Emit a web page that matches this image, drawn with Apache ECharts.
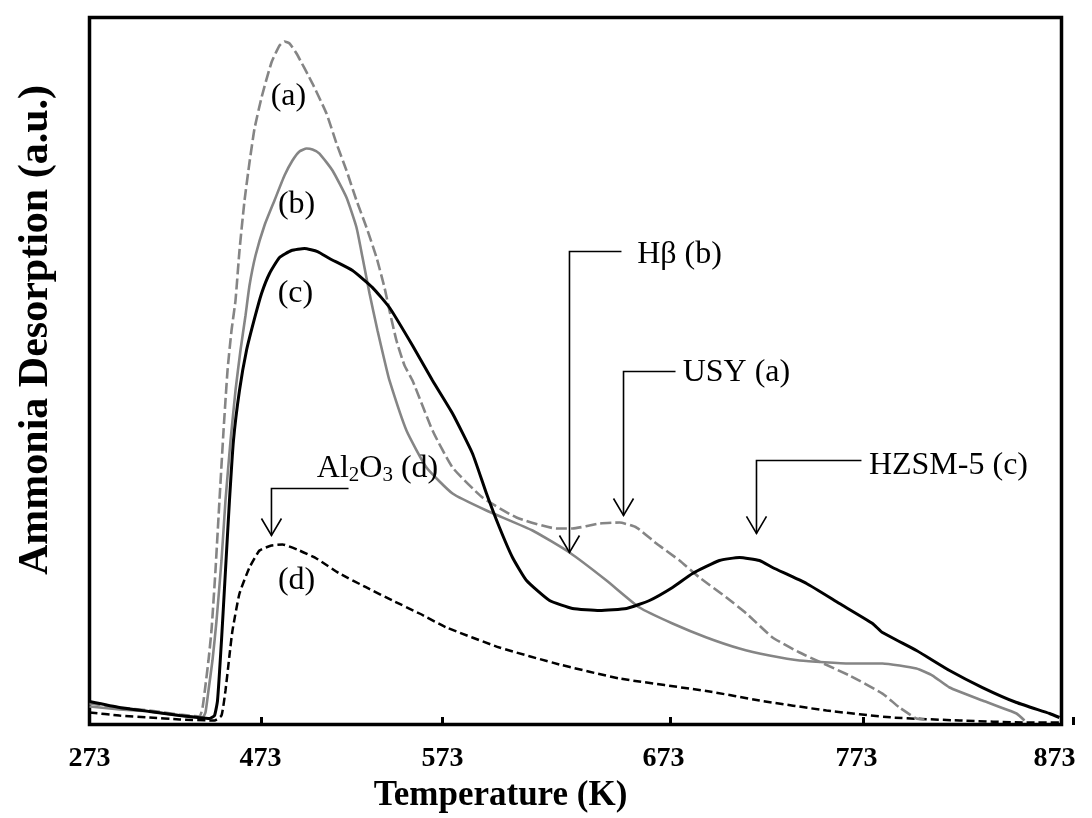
<!DOCTYPE html>
<html>
<head>
<meta charset="utf-8">
<script src="https://cdn.jsdelivr.net/npm/echarts@6/dist/echarts.min.js"></script>
<style>
html,body{margin:0;padding:0;background:#fff;}
#c{width:1092px;height:818px;}
</style>
</head>
<body>
<div id="c"></div>
<script>
// ---- tick labels (the plot's own horizontal scale is in plot units 0..100) ----
const tickLabels   = ['273', '473', '573', '673', '773', '873'];
const tickPos      = [0, 17.7, 36.32, 59.77, 79.63, 101.23];
const tickLabelPos = [0, 17.6, 36.32, 59.05, 78.91, 99.28];

// ---- (a) USY ----
const usyX = [0,3.09,6.17,9.26,11.32,11.63,11.93,12.24,12.55,12.96,13.37,13.79,14.2,14.61,15.02,15.43,15.95,16.46,16.98,17.7,18.72,19.55,20.06,20.58,21.3,22.94,24.38,25.41,26.44,27.47,28.5,29.53,30.35,30.86,31.58,32.41,33.23,35.29,37.35,40.43,43.93,48.05,49.69,52.47,54.53,56.28,58.33,60.7,62.76,65.53,67.59,70.27,73.05,78.19,81.58,83.33,85.08,85.9];
const usyY = [2.97,2.4,1.98,1.41,1.13,2.4,5.52,9.05,13.3,21.78,31.68,41.58,50.07,55.73,59.97,67.04,74.12,79.49,84.3,88.68,93.64,96.04,96.61,96.32,94.91,90.66,86.42,82.18,78.36,74.12,70.3,66.05,61.8,58.56,54.31,50.78,48.66,41.58,36.35,32.11,29.28,27.72,27.72,28.43,28.57,27.86,25.6,23.2,20.79,17.96,15.7,12.31,10.18,6.93,4.38,2.4,0.85,0.71];

// ---- (b) H-beta ----
const hbX = [0,3.09,6.17,9.26,11.63,11.93,12.24,12.65,13.07,13.58,13.99,14.51,15.02,15.53,16.05,16.46,17.08,18.0,19.03,20.06,20.88,21.6,22.33,22.94,23.66,25.0,26.44,27.47,28.09,28.81,29.63,30.35,30.86,32.61,34.67,37.35,40.84,45.58,49.38,53.19,56.58,59.98,63.48,66.87,69.96,73.05,78.19,81.58,85.08,86.73,88.48,91.87,95.37,96.19];
const hbY = [2.55,2.12,1.84,1.27,0.99,1.7,4.81,9.05,14.71,23.2,31.68,40.16,47.24,52.9,57.85,62.09,66.34,70.58,74.12,77.65,79.77,81.05,81.47,81.33,80.76,78.36,74.54,70.3,66.05,60.96,55.73,51.49,48.66,41.58,36.35,32.67,30.27,27.44,24.33,20.37,16.55,14.29,12.31,10.75,9.76,9.05,8.63,8.63,7.92,6.93,5.23,3.39,1.56,0.57];

// ---- (c) HZSM-5 ----
const zsmX = [0,3.09,6.17,9.26,12.35,12.86,13.17,13.58,13.99,14.4,14.81,15.43,16.15,16.98,17.7,18.52,19.55,20.78,22.12,23.46,24.69,27.06,29.12,30.86,33.23,35.29,37.35,39.4,40.84,42.18,43.52,44.96,47.33,49.69,52.47,55.25,57.61,59.98,62.04,64.81,66.87,68.93,70.27,73.77,77.16,80.56,81.58,85.08,88.48,91.87,95.37,98.77,99.79];
const zsmY = [3.25,2.4,1.84,1.27,0.85,1.27,3.39,11.88,21.78,31.68,40.16,47.24,52.9,57.43,60.96,63.79,66.05,67.04,67.33,66.9,65.91,64.21,61.8,58.98,53.61,48.66,43.99,38.33,32.67,27.86,23.62,20.37,17.54,16.41,16.12,16.41,17.54,19.38,21.36,23.2,23.62,23.2,22.21,19.94,17.11,14.29,13.01,10.47,7.64,5.23,3.11,1.56,0.99];

// ---- (d) Al2O3 ----
const alX = [0,3.09,6.17,9.26,12.86,13.58,13.99,14.4,14.71,15.43,16.46,17.49,18.72,19.86,21.6,23.35,25.72,28.5,31.17,33.95,36.73,42.18,48.35,54.53,63.79,68.93,75.82,82.61,89.51,96.4,99.79];
const alY = [1.7,1.27,0.99,0.71,0.57,1.27,4.81,9.76,13.3,18.53,22.21,24.61,25.32,25.46,24.61,23.48,21.36,19.38,17.54,15.7,13.72,10.89,8.49,6.51,4.67,3.39,1.98,0.99,0.57,0.28,0.28];

// ---- annotations (in plot units) ----
const callouts = [
  { text: 'Al{s|2}O{s|3} (d)', at: [29.63, 36.21], from: [26.65, 33.38], corner: [18.72, 33.38], tip: [18.72, 26.73] },
  { text: 'H\u03b2 (b)',        at: [60.7, 66.48],  from: [54.73, 66.9],  corner: [49.38, 66.9],  tip: [49.38, 24.33] },
  { text: 'USY (a)',            at: [66.56, 49.79], from: [60.29, 49.93], corner: [54.94, 49.93], tip: [54.94, 29.56] },
  { text: 'HZSM-5 (c)',         at: [88.37, 36.63], from: [79.42, 37.34], corner: [68.62, 37.34], tip: [68.62, 27.02] }
];
const curveTags = [
  { text: '(a)', at: [20.47, 88.83] },
  { text: '(b)', at: [21.3, 73.55] },
  { text: '(c)', at: [21.19, 60.96] },
  { text: '(d)', at: [21.3, 20.37] }
];

const FONT = 'Liberation Serif';
const zip = (xs, ys) => xs.map((x, i) => [x, ys[i]]);

const G_LEFT = 89.5, G_TOP = 17.5, G_BOTTOM = 93.5, G_W = 972;
const tickMax = tickPos[tickPos.length - 1];
const tickGridRight = 1092 - (G_LEFT + G_W * tickMax / 100);

const chart = echarts.init(document.getElementById('c'), null, { renderer: 'canvas' });

function lineSeries(name, xs, ys, color, width, dash) {
  return {
    name, type: 'line', xAxisIndex: 0, yAxisIndex: 0,
    data: zip(xs, ys), showSymbol: false, smooth: 0.15,
    lineStyle: { color, width, type: dash || 'solid', cap: 'butt' },
    emphasis: { disabled: true }, silent: true
  };
}

chart.setOption({
  animation: false,
  backgroundColor: '#fff',
  grid: [
    { left: G_LEFT, top: G_TOP, width: G_W, bottom: G_BOTTOM, show: true, borderColor: '#000', borderWidth: 3.5, backgroundColor: 'transparent', containLabel: false },
    { left: G_LEFT, top: G_TOP, right: tickGridRight, bottom: G_BOTTOM, show: false, containLabel: false }
  ],
  xAxis: [
    { gridIndex: 0, type: 'value', min: 0, max: 100, axisLine: { show: false }, axisTick: { show: false }, axisLabel: { show: false }, splitLine: { show: false } },
    {
      gridIndex: 1, type: 'value', min: 0, max: tickMax,
      axisLine: { show: false }, splitLine: { show: false },
      axisTick: { show: true, inside: false, length: 8, customValues: tickPos, lineStyle: { color: '#000', width: 3 } },
      axisLabel: {
        show: true, customValues: tickLabelPos, margin: 28,
        fontFamily: FONT, fontWeight: 'bold', fontSize: 28, color: '#000',
        formatter: v => { const i = tickLabelPos.findIndex(p => Math.abs(p - v) < 1e-6); return i >= 0 ? tickLabels[i] : ''; }
      },
      name: 'Temperature (K)', nameLocation: 'middle', nameGap: 58,
      nameTextStyle: { fontFamily: FONT, fontWeight: 'bold', fontSize: 35, color: '#000', padding: [0, 162, 0, 0] }
    }
  ],
  yAxis: [
    {
      gridIndex: 0, type: 'value', min: 0, max: 100,
      axisLine: { show: false }, axisTick: { show: false }, axisLabel: { show: false }, splitLine: { show: false },
      name: 'Ammonia Desorption (a.u.)', nameLocation: 'middle', nameGap: 32,
      nameTextStyle: { fontFamily: FONT, fontWeight: 'bold', fontSize: 42, color: '#000', padding: [0, 0, 0, 82] }
    },
    { gridIndex: 1, type: 'value', min: 0, max: 100, show: false }
  ],
  series: [
    lineSeries('Al2O3 (d)', alX, alY, '#000000', 2.5, [8, 4]),
    lineSeries('Hβ (b)', hbX, hbY, '#858585', 2.6),
    lineSeries('USY (a)', usyX, usyY, '#858585', 2.6, [11, 4]),
    lineSeries('HZSM-5 (c)', zsmX, zsmY, '#000000', 3)
  ]
});

function buildGraphic() {
  const P = p => chart.convertToPixel({ gridIndex: 0 }, p);
  const els = [];
  const textStyle = (t) => ({
    text: t, fill: '#000', fontFamily: FONT, fontSize: 32, align: 'center', verticalAlign: 'middle',
    rich: { s: { fontFamily: FONT, fontSize: 21, fill: '#000', padding: [14, 0, 0, 0], verticalAlign: 'middle' } }
  });
  callouts.forEach(c => {
    const a = P(c.from), b = P(c.corner), t = P(c.tip), tp = P(c.at);
    els.push({ type: 'polyline', z: 100, silent: true, shape: { points: [a, b, t] }, style: { stroke: '#000', lineWidth: 1.6, fill: 'none' } });
    els.push({ type: 'polyline', z: 100, silent: true, shape: { points: [[t[0] - 10, t[1] - 17], [t[0], t[1]], [t[0] + 10, t[1] - 17]] }, style: { stroke: '#000', lineWidth: 1.6, fill: 'none' } });
    els.push({ type: 'text', z: 100, silent: true, x: tp[0], y: tp[1], style: textStyle(c.text) });
  });
  curveTags.forEach(c => {
    const tp = P(c.at);
    els.push({ type: 'text', z: 100, silent: true, x: tp[0], y: tp[1], style: textStyle(c.text) });
  });
  chart.setOption({ graphic: { elements: els } });
}
buildGraphic();
</script>
</body>
</html>
